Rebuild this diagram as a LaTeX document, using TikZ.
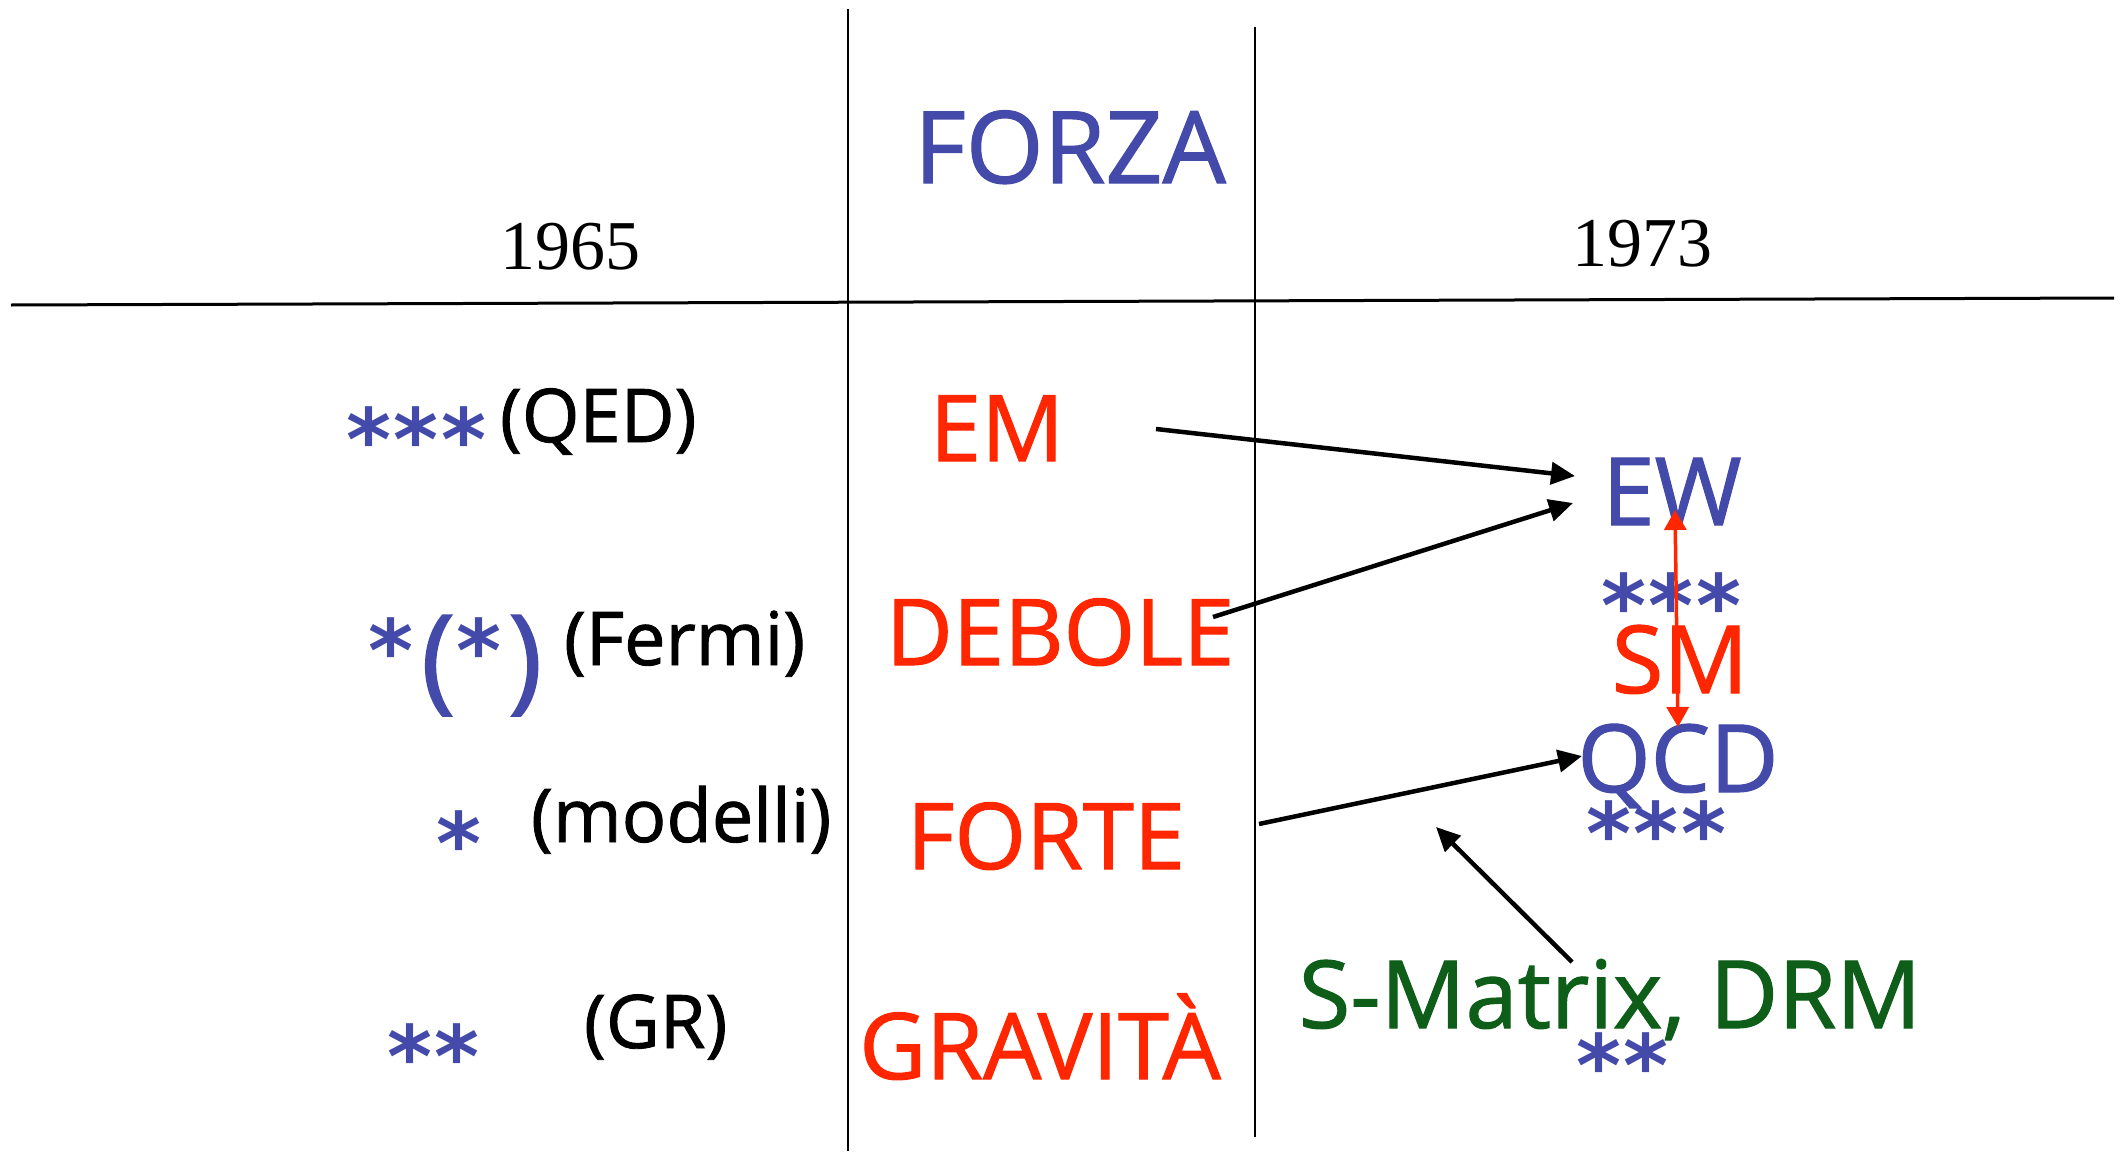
\documentclass[tikz,border=0pt]{standalone}
\usepackage{fontspec}
\setmainfont{Liberation Serif}
\newfontfamily\hand{Open Sans}[FakeBold=1.2]
\newfontfamily\starface{DejaVu Sans Bold}
\usetikzlibrary{arrows.meta}
\definecolor{inkblue}{RGB}{67,74,170}
\definecolor{inkred}{RGB}{255,38,0}
\definecolor{inkgreen}{RGB}{14,94,26}
\newcommand\fsz[1]{\fontsize{#1}{#1}\selectfont}
\begin{document}
\begin{tikzpicture}[x=1pt,y=-1pt,
  txt/.style={inner sep=0pt, outer sep=0pt},
  year/.style={txt, anchor=base, font=\fsz{70}},
  note/.style={txt, anchor=base west, font=\hand\fsz{74}},
  force/.style={txt, anchor=base, text=inkred, font=\hand\fsz{92}},
  theory/.style={txt, anchor=base, text=inkblue, font=\hand\fsz{94}},
  stargrp/.style={txt, anchor=north west, text=inkblue, font=\starface\fsz{86}},
  bigparen/.style={txt, anchor=north west, text=inkblue, font=\hand\fsz{116}},
  arr/.style={line width=4.5pt, -{Triangle[length=24pt,width=22pt]}},
  redarr/.style={line width=3.5pt, draw=inkred,
    {Triangle[length=20pt,width=22pt]}-{Triangle[length=20pt,width=22pt]}}]
\useasboundingbox (0,0) rectangle (2128,1151);

% table rules
\draw[line width=1.5pt] (848,9) -- (848,1151);
\draw[line width=1.5pt] (1255,27) -- (1255,1137);
\draw[line width=3pt] (11,305) -- (2114,298);

% headings
\node[year] (y65) at (570,269) {1965};
\node[year] (y73) at (1642,266) {1973};
\node[txt, anchor=base, text=inkblue, font=\hand\fsz{100}] (forza) at (1070,183) {FORZA};

% 1965 column
\node[stargrp] (qedst) at (346,407) {*\kern3pt*\kern3pt*};
\node[note] (qed) at (500,442) {(QED)};
\node[stargrp] (fst1) at (368,618) {*};
\node[bigparen] (fpl) at (421,615) {(};
\node[stargrp] (fst2) at (456,618) {*};
\node[bigparen] (fpr) at (508,615) {)};
\node[note] (fermi) at (564,665) {(Fermi)};
\node[stargrp] (modst) at (436,811) {*};
\node[note] (mod) at (531,842) {(modelli)};
\node[stargrp] (grst) at (387,1024) {*\kern3pt*};
\node[note] (gr) at (584,1048) {(GR)};

% forces
\node[force] (em) at (997,461) {EM};
\node[force] (deb) at (1060,665) {DEBOLE};
\node[force] (forte) at (1046,869) {FORTE};
\node[force] (grav) at (1040,1079) {GRAVITÀ};

% 1973 column
\node[theory] (ew) at (1672,525) {EW};
\node[stargrp] (ewst) at (1601,573) {*\kern3pt*\kern3pt*};
\node[theory, text=inkred] (sm) at (1680,693) {SM};
\node[theory] (qcd) at (1678,792) {QCD};
\node[stargrp] (qcdst) at (1586,801) {*\kern3pt*\kern3pt*};
\node[theory, text=inkgreen] (smx) at (1610,1028) {S-Matrix, DRM};
\node[stargrp] (smxst) at (1576,1033) {*\kern3pt*};

% connectors
\coordinate (emT) at (1156,429);
\coordinate (ewA) at (1575,476);
\coordinate (debT) at (1213,617);
\coordinate (ewB) at (1573,503);
\coordinate (forT) at (1259,824);
\coordinate (qcdA) at (1582,756);
\coordinate (smxT) at (1572,962);
\coordinate (smxH) at (1436,827);
\coordinate (smTop) at (1675,510);
\coordinate (smBot) at (1678,727);
\draw[arr] (emT) -- (ewA);
\draw[arr] (debT) -- (ewB);
\draw[arr] (forT) -- (qcdA);
\draw[arr] (smxT) -- (smxH);
\draw[redarr] (smTop) -- (smBot);
\end{tikzpicture}
\end{document}
